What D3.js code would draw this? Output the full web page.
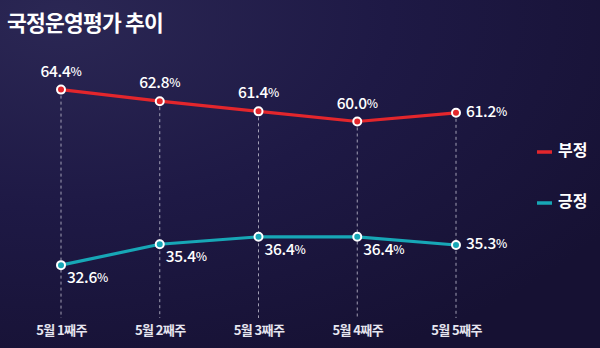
<!DOCTYPE html>
<html><head><meta charset="utf-8">
<script src="https://cdn.jsdelivr.net/npm/d3@7"></script>
<style>
html,body{margin:0;padding:0;background:#1c1741;}
svg{display:block;font-family:"Noto Sans CJK KR","Noto Sans",sans-serif;}
</style></head>
<body>
<svg id="chart" width="600" height="348"></svg>
<script>
const title = "국정운영평가 추이";
const categories = ["5월 1째주","5월 2째주","5월 3째주","5월 4째주","5월 5째주"];
const negative = [64.4, 62.8, 61.4, 60.0, 61.2];
const positive = [32.6, 35.4, 36.4, 36.4, 35.3];
const seriesNames = ["부정","긍정"];
const colors = ["#e3262c","#17a7b6"];

const svg = d3.select("#chart");
const W = 600, H = 348;

const defs = svg.append("defs");
const grad = defs.append("radialGradient").attr("id","bg")
  .attr("cx","0.1").attr("cy","0.05").attr("r","1.1");
grad.append("stop").attr("offset","0").attr("stop-color","#2b2754");
grad.append("stop").attr("offset","0.5").attr("stop-color","#1e1945");
grad.append("stop").attr("offset","1").attr("stop-color","#161133");
svg.append("rect").attr("width",W).attr("height",H).attr("fill","url(#bg)");

svg.append("text").attr("x",7).attr("y",31)
  .attr("fill","#ffffff").attr("font-size",21.5).attr("font-weight",700)
  .attr("letter-spacing",-0.8).text(title);

const x = d3.scalePoint().domain(categories).range([61, 456]);
// broken value axis: lower segment for 긍정, upper for 부정
const y = d3.scaleLinear().domain([30, 40, 58, 66]).range([284.5, 210, 136, 78]);

const axisBottom = 318;
// dashed guides
svg.append("g").selectAll("line").data(categories).join("line")
  .attr("x1",d=>x(d)).attr("x2",d=>x(d))
  .attr("y1",(d,i)=>y(negative[i])).attr("y2",axisBottom)
  .attr("stroke","#b9b7c9").attr("stroke-width",1).attr("stroke-dasharray","3,3")
  .attr("opacity",0.85);

// x axis labels via d3 axis
const xAxis = svg.append("g").attr("transform",`translate(0,${axisBottom})`)
  .call(d3.axisBottom(x).tickSize(0).tickPadding(8));
xAxis.select(".domain").remove();
xAxis.selectAll("text").attr("fill","#e6e5ef").attr("font-size",13).attr("font-weight",700)
  .attr("letter-spacing",-0.6)
  .attr("font-family",'"Noto Sans CJK KR","Noto Sans",sans-serif');

const line = d3.line().x((d,i)=>x(categories[i])).y(d=>y(d));
const data = [negative, positive];
data.forEach((vals, s)=>{
  svg.append("path").datum(vals).attr("d",line).attr("fill","none")
    .attr("stroke",colors[s]).attr("stroke-width",3.2).attr("stroke-linejoin","round");
});
data.forEach((vals, s)=>{
  svg.append("g").selectAll("circle").data(vals).join("circle")
    .attr("cx",(d,i)=>x(categories[i])).attr("cy",d=>y(d)).attr("r",4)
    .attr("fill",colors[s]).attr("stroke","#ffffff").attr("stroke-width",2);
});

function label(xp, yp, v, anchor){
  const t = svg.append("text").attr("x",xp).attr("y",yp).attr("text-anchor",anchor)
    .attr("dominant-baseline","middle").attr("fill","#ffffff").attr("font-weight",500)
    .attr("letter-spacing",-0.3);
  t.append("tspan").attr("font-size",15.5).text(v.toFixed(1));
  t.append("tspan").attr("font-size",12).text("%");
}
negative.forEach((v,i)=>{
  const px = x(categories[i]), py = y(v);
  if (i === negative.length-1) label(px+10, py, v, "start");
  else label(px, py-17, v, "middle");
});
positive.forEach((v,i)=>{
  const px = x(categories[i]), py = y(v);
  if (i === positive.length-1) label(px+10, py, v, "start");
  else label(px+6, py+14, v, "start");
});

// legend
const leg = svg.append("g");
[152, 203].forEach((ly, s)=>{
  leg.append("line").attr("x1",537).attr("x2",552).attr("y1",ly).attr("y2",ly)
    .attr("stroke",colors[s]).attr("stroke-width",3.5);
  leg.append("text").attr("x",558).attr("y",ly).attr("dominant-baseline","middle")
    .attr("fill","#ffffff").attr("font-size",16).attr("font-weight",700)
    .text(seriesNames[s]);
});
</script>
</body></html>
